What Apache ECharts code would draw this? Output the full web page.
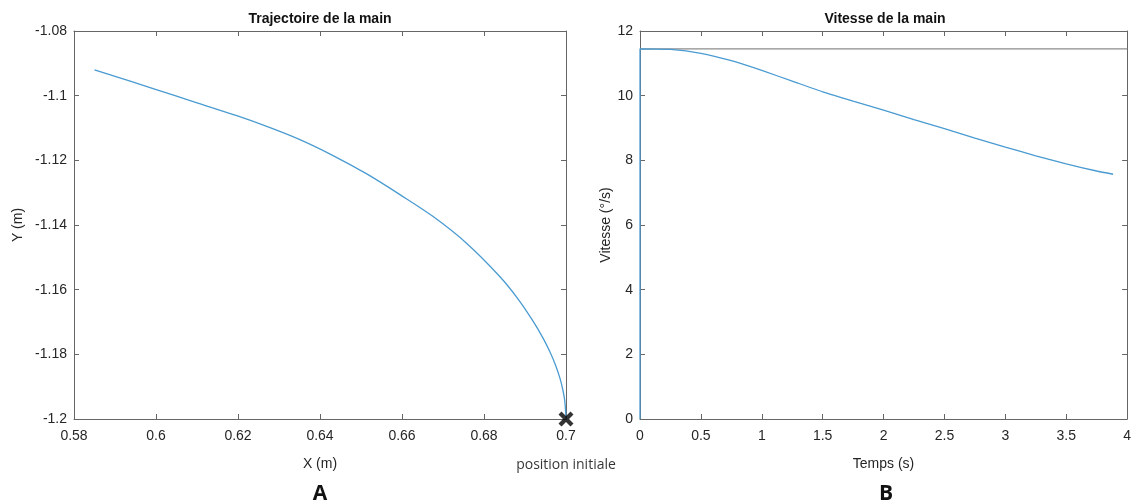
<!DOCTYPE html>
<html>
<head>
<meta charset="utf-8">
<script src="https://cdn.jsdelivr.net/npm/echarts@6/dist/echarts.min.js"></script>
<style>
  html, body { margin: 0; padding: 0; background: #fff; }
  #main { width: 1134px; height: 504px; }
</style>
</head>
<body>
<div id="main"></div>
<script>
// A : trajectoire de la main (X, Y en m)
var trajX = [0.585, 0.5993, 0.61, 0.6197, 0.627, 0.6351, 0.6433, 0.6514, 0.6595, 0.6676, 0.6758, 0.6839, 0.6885, 0.692, 0.6945, 0.6961, 0.6975, 0.6985, 0.6992, 0.6997, 0.7];
var trajY = [-1.092, -1.0978, -1.1022, -1.1062, -1.1095, -1.1136, -1.1186, -1.1242, -1.1306, -1.1374, -1.1457, -1.1560, -1.1632, -1.1698, -1.1752, -1.1793, -1.1835, -1.1873, -1.1908, -1.1944, -1.2];
var startX = [0.7];
var startY = [-1.2];

// B : vitesse de la main (temps en s, vitesse en °/s)
var temps = [0, 0, 0.25, 0.5, 0.75, 1.0, 1.25, 1.5, 1.75, 2.0, 2.25, 2.5, 2.75, 3.0, 3.25, 3.5, 3.75, 3.885];
var vitesse = [0, 11.45, 11.43, 11.31, 11.08, 10.78, 10.45, 10.12, 9.83, 9.55, 9.26, 8.98, 8.69, 8.41, 8.14, 7.89, 7.67, 7.57];
var refT = [0, 4];
var refV = [11.45, 11.45];

var FONT = '"Liberation Sans", Arial, sans-serif';
var AXIS_COL = '#666';
var TEXT_COL = '#262626';

function pairs(a, b) {
  return a.map(function (v, i) { return [v, b[i]]; });
}

function valueAxis(grid, pos, min, max, interval, name, gap, labels) {
  return {
    type: 'value', gridIndex: grid, position: pos,
    min: min, max: max, interval: interval,
    name: labels ? name : '', nameLocation: 'middle', nameGap: gap,
    nameTextStyle: { fontFamily: FONT, fontSize: 14, color: TEXT_COL },
    axisLine: { show: true, onZero: false, lineStyle: { color: AXIS_COL, width: 1 } },
    axisTick: { show: true, inside: true, length: 5, lineStyle: { color: AXIS_COL } },
    axisLabel: { show: labels, fontFamily: FONT, fontSize: 14, color: TEXT_COL,
                 margin: pos === 'bottom' ? 10 : 7 },
    splitLine: { show: false }
  };
}

var chart = echarts.init(document.getElementById('main'));

var option = {
  animation: false,
  backgroundColor: '#fff',
  grid: [
    { left: 74, right: 568, top: 31, height: 388 },
    { left: 640, right: 3, top: 31, height: 388 }
  ],
  xAxis: [
    valueAxis(0, 'bottom', 0.58, 0.7, 0.02, 'X (m)', 38, true),
    valueAxis(0, 'top', 0.58, 0.7, 0.02, '', 0, false),
    valueAxis(1, 'bottom', 0, 4, 0.5, 'Temps (s)', 38, true),
    valueAxis(1, 'top', 0, 4, 0.5, '', 0, false)
  ],
  yAxis: [
    valueAxis(0, 'left', -1.2, -1.08, 0.02, 'Y (m)', 49, true),
    valueAxis(0, 'right', -1.2, -1.08, 0.02, '', 0, false),
    valueAxis(1, 'left', 0, 12, 2, 'Vitesse (°/s)', 19, true),
    valueAxis(1, 'right', 0, 12, 2, '', 0, false)
  ],
  series: [
    {
      type: 'line', xAxisIndex: 0, yAxisIndex: 0,
      data: pairs(trajX, trajY), smooth: 0.35, showSymbol: false,
      lineStyle: { color: '#4a9bd1', width: 1.3 }
    },
    {
      type: 'scatter', xAxisIndex: 0, yAxisIndex: 0, clip: false, z: 10,
      data: pairs(startX, startY),
      symbol: 'path://M2,0 L5,3 L8,0 L10,2 L7,5 L10,8 L8,10 L5,7 L2,10 L0,8 L3,5 L0,2 Z',
      symbolSize: 15,
      itemStyle: { color: '#000' },
      label: {
        show: true, position: 'bottom', distance: 32,
        formatter: 'position initiale',
        fontFamily: '"Open Sans", "Noto Sans", sans-serif', fontSize: 14, color: '#000'
      }
    },
    {
      type: 'line', xAxisIndex: 2, yAxisIndex: 2,
      data: pairs(refT, refV), showSymbol: false,
      lineStyle: { color: '#8c8c8c', width: 1.3 }
    },
    {
      type: 'line', xAxisIndex: 2, yAxisIndex: 2,
      data: pairs(temps, vitesse), smooth: 0.2, showSymbol: false,
      lineStyle: { color: '#4a9bd1', width: 1.3 }
    }
  ],
  graphic: [
    { type: 'text', x: 320, y: 19, style: { text: 'Trajectoire de la main', font: 'bold 14px ' + FONT, fill: '#111', align: 'center', verticalAlign: 'middle' } },
    { type: 'text', x: 885, y: 19, style: { text: 'Vitesse de la main', font: 'bold 14px ' + FONT, fill: '#111', align: 'center', verticalAlign: 'middle' } },
    { type: 'text', x: 320, y: 494, style: { text: 'A', font: 'bold 21px "Open Sans", "Noto Sans", sans-serif', fill: '#111', align: 'center', verticalAlign: 'middle' } },
    { type: 'text', x: 886, y: 494, style: { text: 'B', font: 'bold 21px "Open Sans", "Noto Sans", sans-serif', fill: '#111', align: 'center', verticalAlign: 'middle' } }
  ]
};

chart.setOption(option);
</script>
</body>
</html>
